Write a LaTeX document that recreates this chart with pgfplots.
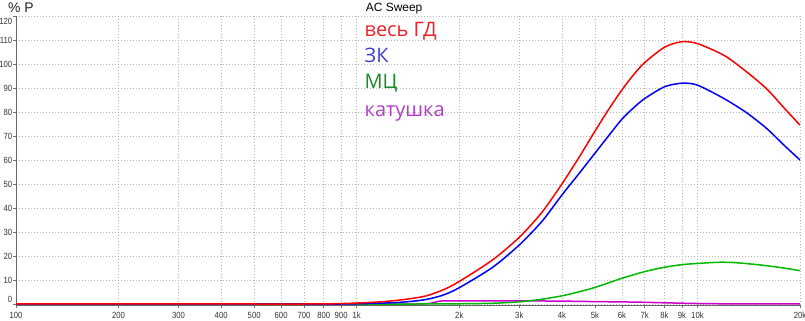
\documentclass[border=0pt]{standalone}
\usepackage{fontspec}
\usepackage{pgfplots}
\pgfplotsset{compat=1.18}
\setmainfont{Liberation Sans}
\newfontfamily\tickfont[FakeStretch=0.86]{Liberation Sans}
\newfontfamily\legfont{Open Sans}
\definecolor{cR}{RGB}{255,0,0}
\definecolor{cB}{RGB}{0,0,255}
\definecolor{cG}{RGB}{0,185,0}
\definecolor{cP}{RGB}{205,0,205}
\definecolor{tR}{RGB}{238,32,40}
\definecolor{tB}{RGB}{60,60,215}
\definecolor{tG}{RGB}{20,140,40}
\definecolor{tP}{RGB}{180,60,200}
\begin{document}
\begin{tikzpicture}
\begin{axis}[
  name=ax, at={(0,0)}, anchor=south west,
  scale only axis, width=784bp, height=289.2bp,
  xmode=log, xmin=100, xmax=20000, ymin=-0.5, ymax=120,
  axis x line*=bottom, axis y line*=left,
  axis line style={black!60, line width=0.8bp, -},
  xtick={100,200,300,400,500,600,700,800,900,1000,2000,3000,4000,5000,6000,7000,8000,9000,10000,20000},
  xticklabels={100,200,300,400,500,600,700,800,900,1k,2k,3k,4k,5k,6k,7k,8k,9k,10k,20k},
  xminorticks=false, yminorticks=false,
  ytick={0,10,20,30,40,50,60,70,80,90,100,110,120},
  yticklabels={\raisebox{4.3bp}[\height][\depth]{0},10,20,30,40,50,60,70,80,90,100,110,\raisebox{-5.7bp}[\height][\depth]{120}},
  tick style={black!55, line width=0.6bp},
  tick align=outside, major tick length=3bp,
  grid=major,
  grid style={black!30, dash pattern=on 1bp off 2bp, line width=0.7bp},
  ticklabel style={font=\tickfont\fontsize{9}{9}\selectfont, text=black!80},
  xticklabel style={yshift=-0.5bp},
  yticklabel style={inner sep=0.6bp},
  every axis plot/.append style={line width=1.5bp, smooth, tension=0.45},
]
\addplot[cP] coordinates {(100,0) (1000,0) (1500,0) (1650,0.3) (1750,1.2) (2000,1.3) (3000,1.3) (4000,1.2) (5000,1.0) (6500,0.8) (8000,0.5) (10000,0.2) (13000,0.05) (20000,0)};
\addplot[cG] coordinates {(100,0) (1000,0) (1500,0) (2000,0.1) (2500,0.3) (3000,0.9) (3500,2.0) (4000,3.4) (4500,5.1) (5000,6.9) (6000,10.7) (7000,13.5) (8000,15.3) (9000,16.4) (10000,16.9) (11650,17.4) (13000,17.2) (15200,16.3) (17500,15.2) (20000,13.9)};
\addplot[cB] coordinates {(100,0) (500,0) (900,0) (1000,0.1) (1200,0.4) (1400,0.9) (1600,1.9) (1800,3.8) (2000,6.8) (2500,15.2) (3000,24.6) (3500,34.5) (4000,45.4) (4500,54.5) (5000,62.8) (5500,70.3) (6000,77) (6500,81.8) (7000,85.6) (8000,90.5) (9000,92) (10000,91.2) (12000,85.5) (14000,79.5) (16000,73) (18000,66) (20000,60)};
\addplot[cR] coordinates {(100,0) (500,0) (700,0) (850,0.1) (1000,0.4) (1200,1.0) (1400,2.0) (1600,3.4) (1800,6.0) (2000,9.4) (2500,18.3) (3000,27.8) (3500,38.3) (4000,50) (4500,61.3) (5000,72) (5500,81.3) (6000,89.2) (6500,95.6) (7000,100.6) (8000,107) (9000,109.3) (10000,108.5) (12000,103.5) (14000,96.5) (16000,89.5) (18000,81.5) (20000,74.5)};
\end{axis}
\node[anchor=base west, inner sep=0, font=\fontsize{14}{14}\selectfont, text=black!85] at ([shift={(-8bp,3.3bp)}]ax.north west) {\% P};
\node[anchor=base west, inner sep=0, font=\fontsize{12}{12}\selectfont, text=black] at ([shift={(349.7bp,4.3bp)}]ax.north west) {AC Sweep};
\node[anchor=base west, inner sep=0, font=\legfont\fontsize{20}{20}\selectfont, text=tR] at ([shift={(348.5bp,-20.7bp)}]ax.north west) {весь ГД};
\node[anchor=base west, inner sep=0, font=\legfont\fontsize{20}{20}\selectfont, text=tB] at ([shift={(348.5bp,-46.7bp)}]ax.north west) {ЗК};
\node[anchor=base west, inner sep=0, font=\legfont\fontsize{20}{20}\selectfont, text=tG] at ([shift={(348.5bp,-73bp)}]ax.north west) {МЦ};
\node[anchor=base west, inner sep=0, font=\legfont\fontsize{20}{20}\selectfont, text=tP] at ([shift={(348.5bp,-101bp)}]ax.north west) {катушка};
\pgfresetboundingbox
\path[use as bounding box] ([shift={(-16bp,-15.8bp)}]ax.south west) rectangle ([shift={(5bp,16bp)}]ax.north east);
\end{tikzpicture}
\end{document}
